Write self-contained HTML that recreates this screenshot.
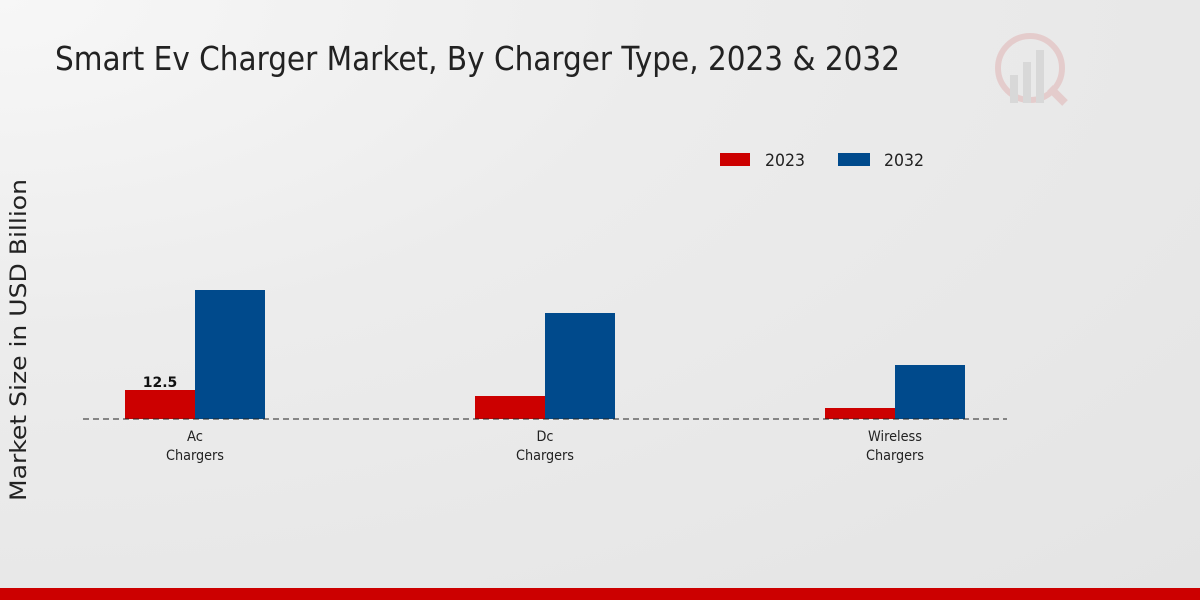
<!DOCTYPE html>
<html><head><meta charset="utf-8"><style>
html,body{margin:0;padding:0;width:1200px;height:600px;overflow:hidden}
body{background:radial-gradient(ellipse at 0% 0%,#f7f7f7 0%,#ececec 40%,#e4e4e4 100%)}
</style></head><body>
<svg width="1200" height="600" xmlns="http://www.w3.org/2000/svg" style="position:absolute;left:0;top:0">
<text x="55" y="70" font-family="DejaVu Sans, Liberation Sans, sans-serif" font-size="33" fill="#222" textLength="845" lengthAdjust="spacingAndGlyphs">Smart Ev Charger Market, By Charger Type, 2023 &amp; 2032</text>
<g opacity="0.35">
<circle cx="1030" cy="68" r="32" fill="none" stroke="#d99" stroke-width="6"/>
<rect x="1010" y="75" width="8" height="28" fill="#bbb"/>
<rect x="1023" y="62" width="8" height="41" fill="#bbb"/>
<rect x="1036" y="50" width="8" height="53" fill="#bbb"/>
<line x1="1050" y1="88" x2="1065" y2="103" stroke="#d99" stroke-width="8"/>
</g>
<rect x="720" y="153" width="30" height="13" fill="#cc0000"/>
<text x="765" y="166" font-family="DejaVu Sans, sans-serif" font-size="17" fill="#222" textLength="40" lengthAdjust="spacingAndGlyphs">2023</text>
<rect x="838" y="153" width="32" height="13" fill="#004a8c"/>
<text x="884" y="166" font-family="DejaVu Sans, sans-serif" font-size="17" fill="#222" textLength="40" lengthAdjust="spacingAndGlyphs">2032</text>
<text transform="translate(26,340) rotate(-90)" text-anchor="middle" font-family="DejaVu Sans, sans-serif" font-size="22" fill="#222" textLength="322" lengthAdjust="spacingAndGlyphs">Market Size in USD Billion</text>
<rect x="125" y="390" width="70" height="29" fill="#cc0000"/>
<rect x="195" y="290" width="70" height="129" fill="#004a8c"/>
<rect x="475" y="396" width="70" height="23" fill="#cc0000"/>
<rect x="545" y="313" width="70" height="106" fill="#004a8c"/>
<rect x="825" y="408" width="70" height="11" fill="#cc0000"/>
<rect x="895" y="365" width="70" height="54" fill="#004a8c"/>
<line x1="83" y1="419" x2="1007" y2="419" stroke="#222" stroke-width="1" stroke-dasharray="6,4"/>
<text x="160" y="387" text-anchor="middle" font-family="DejaVu Sans, sans-serif" font-size="14" font-weight="bold" fill="#111">12.5</text>
<g font-family="DejaVu Sans, sans-serif" font-size="14" fill="#222" text-anchor="middle">
<text x="195" y="441" textLength="16" lengthAdjust="spacingAndGlyphs">Ac</text><text x="195" y="460" textLength="58" lengthAdjust="spacingAndGlyphs">Chargers</text>
<text x="545" y="441" textLength="17" lengthAdjust="spacingAndGlyphs">Dc</text><text x="545" y="460" textLength="58" lengthAdjust="spacingAndGlyphs">Chargers</text>
<text x="895" y="441" textLength="54" lengthAdjust="spacingAndGlyphs">Wireless</text><text x="895" y="460" textLength="58" lengthAdjust="spacingAndGlyphs">Chargers</text>
</g>
<rect x="0" y="588" width="1200" height="12" fill="#cc0000"/>
</svg>
</body></html>
